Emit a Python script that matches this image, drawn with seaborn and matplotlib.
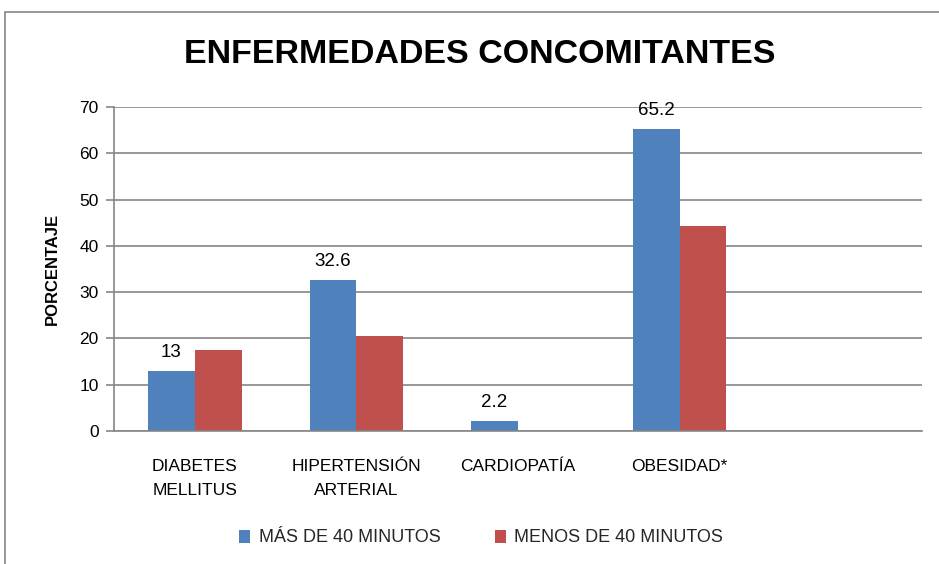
import matplotlib
matplotlib.use("Agg")
import matplotlib.pyplot as plt
import seaborn as sns
import pandas as pd
from matplotlib.patches import Rectangle

categories = ["DIABETES\nMELLITUS", "HIPERTENSIÓN\nARTERIAL", "CARDIOPATÍA", "OBESIDAD*"]
slots = categories + [" "]
series_names = ["MÁS DE 40 MINUTOS", "MENOS DE 40 MINUTOS"]
mas_40 = [13, 32.6, 2.2, 65.2]
menos_40 = [17.5, 20.5, 0, 44.2]
y_ticks = [0, 10, 20, 30, 40, 50, 60, 70]
title = "ENFERMEDADES CONCOMITANTES"
y_label = "PORCENTAJE"

colors = ["#4F81BD", "#C0504D"]
grid_c = "#868686"

sns.set_theme(style="white")
FONT = ["Liberation Sans", "DejaVu Sans"]
plt.rcParams["font.family"] = FONT

df = pd.DataFrame({
    "cat": categories * 2,
    "serie": [series_names[0]] * 4 + [series_names[1]] * 4,
    "val": mas_40 + menos_40,
})

fig = plt.figure(figsize=(9.39, 5.64), dpi=100)
ax = fig.add_axes([114 / 939, 1 - 431 / 564, (922 - 114) / 939, (431 - 107) / 564])

sns.barplot(data=df, x="cat", y="val", hue="serie", order=slots,
            hue_order=series_names, palette=colors, width=0.58, gap=0,
            saturation=1, ax=ax, legend=True, edgecolor="none", linewidth=0)

ax.set_ylim(0, 70)
ax.set_xlim(-0.5, len(slots) - 0.5)
ax.set_yticks(y_ticks)
ax.yaxis.grid(True, color=grid_c, linewidth=1.2)
ax.set_axisbelow(True)
for s in ["top", "right"]:
    ax.spines[s].set_visible(False)
for s in ["left", "bottom"]:
    ax.spines[s].set_color(grid_c)
    ax.spines[s].set_linewidth(1.2)
ax.tick_params(axis="y", which="both", left=True, length=6, color=grid_c,
               width=1.2, labelsize=12.5, pad=5, labelcolor="black")
ax.tick_params(axis="x", bottom=False, labelsize=12.5, pad=14, labelcolor="black")
for lab in ax.get_xticklabels():
    lab.set_linespacing(1.75)
ax.set_xlabel("")
ax.set_ylabel(y_label, fontsize=12, fontweight="bold", labelpad=14, color="black")

cont = ax.containers[0]
ax.bar_label(cont, labels=[f"{v:g}" for v in mas_40], padding=7, fontsize=13.5, color="black")

handles, labels = ax.get_legend_handles_labels()
ax.legend_.remove()
fig.legend(handles, labels, loc="center", bbox_to_anchor=(481 / 939, 1 - 538 / 564),
           ncol=2, frameon=False, fontsize=13, handlelength=0.65, handleheight=0.75,
           handletextpad=0.45, columnspacing=3.0)

fig.text(480 / 939, 1 - 55 / 564, title, ha="center", va="center",
         fontsize=24.5, fontweight="bold", color="black")

fig.patches.append(Rectangle((5 / 939, -0.1), 1.2, 1 - 12 / 564 + 0.1,
                             transform=fig.transFigure, fill=False,
                             edgecolor=grid_c, linewidth=1.2))

fig.savefig("out.png", dpi=100, facecolor="white")
